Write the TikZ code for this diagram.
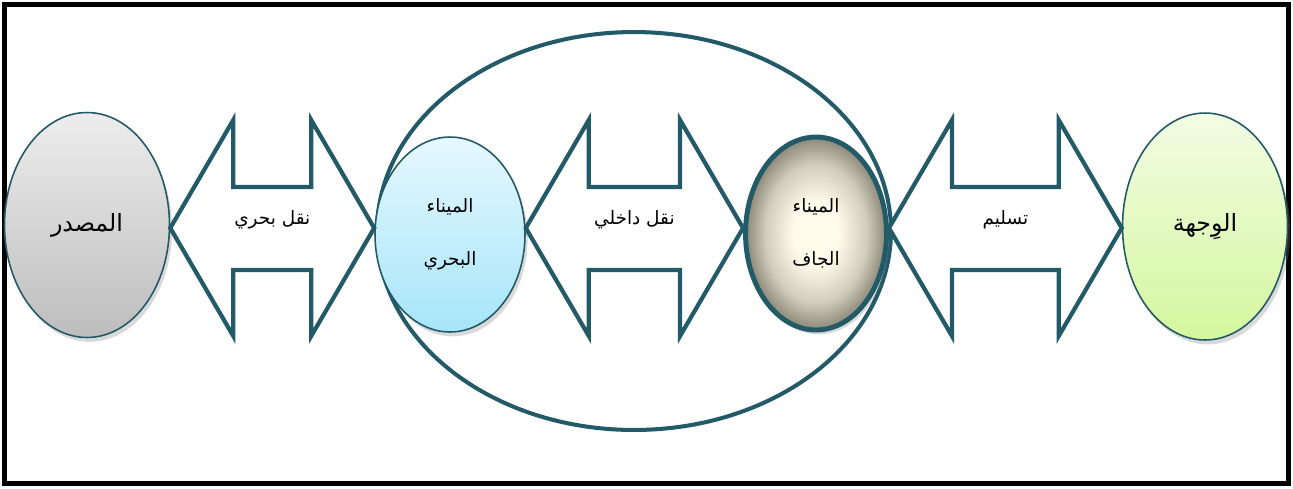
\documentclass[tikz,border=0pt]{standalone}
\usepackage{fontspec}
\newfontfamily\arabicfont[Script=Arabic]{DejaVu Sans}
\TeXXeTstate=1
\usetikzlibrary{shapes.geometric,calc,shadows}
\definecolor{rimteal}{HTML}{235A68}
\definecolor{srctop}{HTML}{EDEDED}
\definecolor{srcbot}{HTML}{BDBDBD}
\definecolor{seatop}{HTML}{E6F8FE}
\definecolor{seabot}{HTML}{A6E5FA}
\definecolor{drymid}{HTML}{FFFCEB}
\definecolor{dryrim}{HTML}{8A8776}
\definecolor{desttop}{HTML}{F2FCE3}
\definecolor{destbot}{HTML}{D4F79E}
\pgfdeclareradialshading{dryglow}{\pgfpoint{0bp}{0bp}}{color(0bp)=(drymid);
  color(8bp)=(drymid); color(18bp)=(drymid!60!dryrim); color(25bp)=(dryrim); color(50bp)=(dryrim)}
\tikzset{
  place/.style={ellipse,draw=rimteal,line width=0.9pt,inner sep=0pt,align=center,
    font=\arabicfont\fontsize{10.5}{30}\selectfont,
    drop shadow={opacity=0.3,shadow xshift=1.5pt,shadow yshift=-2.5pt}},
  bigplace/.style={font=\arabicfont\fontsize{13.5}{16}\selectfont},
  blockarr/.style={draw=rimteal,fill=white,line width=2.4pt,line join=miter},
  lbl/.style={font=\arabicfont\fontsize{10.5}{12}\selectfont,inner sep=1pt}
}
% block arrow between two tips, label in the middle
\newcommand{\blockarrow}[4]{%
  \draw[blockarr] (#1) -- ++(63,-108) -- ++(0,67) -- ($(#2)+(-63,-41)$) -- ++(0,-67) -- (#2)
    -- ++(-63,108) -- ++(0,-66) -- ($(#1)+(63,42)$) -- ++(0,66) -- cycle;
  \node[lbl] (#3) at ($(#1)!0.5!(#2)+(0,-8)$) {#4};}
\begin{document}
\begin{tikzpicture}[x=0.02cm,y=-0.02cm]
  \useasboundingbox (0,0) rectangle (1293,488);
  %Khung
  \draw[line width=2.85pt] (4.5,4.5) rectangle (1288.5,483.5);
  \coordinate (axis) at (0,228);
  %Vung cang
  \node[ellipse,draw=rimteal,line width=2.3pt,minimum width=10.28cm,minimum height=7.96cm] (zone) at (634,231) {};
  %Cac nut
  \node[place,bigplace,minimum width=3.3cm,minimum height=4.5cm,top color=srctop,bottom color=srcbot]
    (src) at (87,225) {\beginR المصدر\endR};
  \node[place,minimum width=3cm,minimum height=3.9cm,top color=seatop,bottom color=seabot]
    (sea) at (450,234.5) {\beginR الميناء\endR\\\beginR البحري\endR};
  \node[place,line width=2.8pt,minimum width=2.82cm,minimum height=3.86cm,shading=dryglow]
    (dry) at (816,233.5) {\beginR الميناء\endR\\\beginR الجاف\endR};
  \node[place,bigplace,minimum width=3.3cm,minimum height=4.54cm,top color=desttop,bottom color=destbot]
    (dest) at (1205,226.5) {\beginR الوِجهة\endR};
  %Mui ten
  \blockarrow{src.east |- axis}{sea.west |- axis}{sealeg}{\beginR نقل بحري\endR}
  \blockarrow{sea.east |- axis}{dry.west |- axis}{inlandleg}{\beginR نقل داخلي\endR}
  \blockarrow{dry.east |- axis}{dest.west |- axis}{lastleg}{\beginR تسليم\endR}
\end{tikzpicture}
\end{document}
